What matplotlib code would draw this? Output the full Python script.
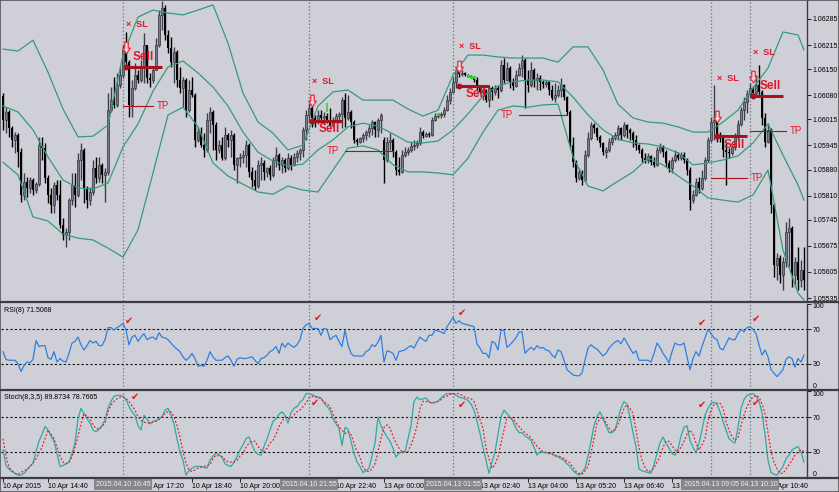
import matplotlib
matplotlib.use("Agg")
import matplotlib.pyplot as plt
from matplotlib.lines import Line2D
from matplotlib.patches import Rectangle
from matplotlib.path import Path
from matplotlib.transforms import ScaledTranslation
import numpy as np

# EURUSD M5, 10 Apr 2015 13:25 -> 13 Apr 2015 11:35 (one entry per bar)
opens = [
    1.06078, 1.06013, 1.06035, 1.05992, 1.05960, 1.05973, 1.05927, 1.05812, 1.05847, 1.05831,
    1.05852, 1.05825, 1.05841, 1.05946, 1.05938, 1.05857, 1.05812, 1.05785, 1.05839, 1.05812,
    1.05731, 1.05704, 1.05712, 1.05798, 1.05839, 1.05812, 1.05906, 1.05933, 1.05831, 1.05798,
    1.05820, 1.05884, 1.05857, 1.05892, 1.05866, 1.05874, 1.06040, 1.06067, 1.06054, 1.06108,
    1.06134, 1.06202, 1.06169, 1.06054, 1.06099, 1.06134, 1.06121, 1.06153, 1.06215, 1.06126,
    1.06121, 1.06148, 1.06215, 1.06296, 1.06315, 1.06242, 1.06207, 1.06169, 1.06196, 1.06121,
    1.06099, 1.06121, 1.06040, 1.06094, 1.06081, 1.05960, 1.05981, 1.05946, 1.05933, 1.06013,
    1.06035, 1.06000, 1.05933, 1.05946, 1.05911, 1.05973, 1.05960, 1.05973, 1.05892, 1.05911,
    1.05914, 1.05919, 1.05946, 1.05874, 1.05852, 1.05836, 1.05892, 1.05898, 1.05874, 1.05884,
    1.05866, 1.05906, 1.05919, 1.05892, 1.05906, 1.05884, 1.05911, 1.05892, 1.05914, 1.05925,
    1.05933, 1.05987, 1.06027, 1.06046, 1.06019, 1.06008, 1.06027, 1.06019, 1.06024, 1.06013,
    1.06000, 1.06013, 1.06024, 1.06030, 1.06067, 1.06019, 1.06035, 1.06008, 1.05960, 1.05954,
    1.05965, 1.05973, 1.05981, 1.05992, 1.06008, 1.05987, 1.06013, 1.05960, 1.05906, 1.05954,
    1.05960, 1.05927, 1.05879, 1.05874, 1.05919, 1.05927, 1.05933, 1.05944, 1.05946, 1.05952,
    1.05981, 1.05970, 1.05976, 1.05973, 1.06013, 1.06024, 1.06027, 1.06030, 1.06040, 1.06067,
    1.06089, 1.06116, 1.06148, 1.06137, 1.06140, 1.06134, 1.06132, 1.06129, 1.06121, 1.06099,
    1.06089, 1.06094, 1.06067, 1.06099, 1.06089, 1.06099, 1.06094, 1.06161, 1.06121, 1.06153,
    1.06116, 1.06105, 1.06134, 1.06153, 1.06175, 1.06121, 1.06108, 1.06148, 1.06121, 1.06126,
    1.06116, 1.06110, 1.06116, 1.06094, 1.06073, 1.06081, 1.06094, 1.06108, 1.06075, 1.06035,
    1.05946, 1.05901, 1.05857, 1.05874, 1.05852, 1.05919, 1.05965, 1.06000, 1.05992, 1.05968,
    1.05952, 1.05927, 1.05933, 1.05954, 1.05965, 1.05973, 1.05992, 1.05973, 1.06000, 1.05987,
    1.05979, 1.05960, 1.05946, 1.05933, 1.05911, 1.05906, 1.05917, 1.05901, 1.05892, 1.05933,
    1.05941, 1.05927, 1.05898, 1.05884, 1.05906, 1.05919, 1.05911, 1.05919, 1.05906, 1.05879,
    1.05798, 1.05812, 1.05847, 1.05831, 1.05857, 1.05906, 1.05960, 1.06008, 1.06013, 1.05973,
    1.05965, 1.05933, 1.05927, 1.05925, 1.05941, 1.05968, 1.06003, 1.06040, 1.06062, 1.06083,
    1.06099, 1.06086, 1.06108, 1.06089, 1.06019, 1.05954, 1.05987, 1.05785, 1.05624, 1.05642,
    1.05597, 1.05632, 1.05712, 1.05723, 1.05597, 1.05632, 1.05583, 1.05610,
]
highs = [
    1.06086, 1.06048, 1.06040, 1.05997, 1.05981, 1.05979, 1.05938, 1.05871, 1.05860, 1.05860,
    1.05857, 1.05847, 1.05968, 1.05968, 1.05952, 1.05866, 1.05831, 1.05847, 1.05852, 1.05852,
    1.05750, 1.05723, 1.05804, 1.05871, 1.05871, 1.05925, 1.05952, 1.05938, 1.05836, 1.05833,
    1.05906, 1.05914, 1.05914, 1.05898, 1.05884, 1.06086, 1.06102, 1.06129, 1.06140, 1.06156,
    1.06215, 1.06250, 1.06175, 1.06121, 1.06167, 1.06148, 1.06175, 1.06247, 1.06215, 1.06140,
    1.06156, 1.06234, 1.06309, 1.06333, 1.06323, 1.06255, 1.06237, 1.06210, 1.06202, 1.06156,
    1.06129, 1.06126, 1.06121, 1.06129, 1.06086, 1.05995, 1.05995, 1.05979, 1.06032, 1.06048,
    1.06040, 1.06008, 1.05960, 1.05968, 1.05995, 1.05979, 1.05987, 1.05979, 1.05914, 1.05925,
    1.05933, 1.05960, 1.05952, 1.05887, 1.05879, 1.05906, 1.05914, 1.05906, 1.05887, 1.05892,
    1.05914, 1.05941, 1.05925, 1.05914, 1.05911, 1.05925, 1.05919, 1.05925, 1.05933, 1.05938,
    1.05995, 1.06040, 1.06059, 1.06051, 1.06027, 1.06040, 1.06040, 1.06035, 1.06032, 1.06046,
    1.06021, 1.06032, 1.06035, 1.06075, 1.06086, 1.06081, 1.06040, 1.06013, 1.05965, 1.05968,
    1.05979, 1.05987, 1.06000, 1.06013, 1.06011, 1.06019, 1.06032, 1.05968, 1.05968, 1.05979,
    1.05965, 1.05933, 1.05914, 1.05933, 1.05941, 1.05941, 1.05954, 1.05960, 1.05960, 1.05995,
    1.05987, 1.05981, 1.05981, 1.06021, 1.06032, 1.06032, 1.06035, 1.06048, 1.06081, 1.06099,
    1.06129, 1.06156, 1.06156, 1.06148, 1.06142, 1.06137, 1.06134, 1.06129, 1.06129, 1.06108,
    1.06099, 1.06097, 1.06108, 1.06105, 1.06108, 1.06105, 1.06175, 1.06180, 1.06169, 1.06159,
    1.06126, 1.06148, 1.06167, 1.06188, 1.06180, 1.06148, 1.06169, 1.06153, 1.06140, 1.06134,
    1.06121, 1.06121, 1.06118, 1.06108, 1.06113, 1.06108, 1.06126, 1.06110, 1.06078, 1.06040,
    1.05968, 1.05906, 1.05884, 1.05879, 1.05933, 1.05981, 1.06008, 1.06005, 1.05995, 1.05973,
    1.05954, 1.05941, 1.05965, 1.05973, 1.05981, 1.06000, 1.05995, 1.06008, 1.06003, 1.05992,
    1.05984, 1.05973, 1.05949, 1.05938, 1.05925, 1.05925, 1.05919, 1.05914, 1.05941, 1.05952,
    1.05946, 1.05933, 1.05906, 1.05914, 1.05933, 1.05927, 1.05927, 1.05927, 1.05911, 1.05887,
    1.05825, 1.05857, 1.05860, 1.05879, 1.05914, 1.05968, 1.06021, 1.06108, 1.06019, 1.05981,
    1.05968, 1.05952, 1.05938, 1.05946, 1.05979, 1.06013, 1.06048, 1.06075, 1.06094, 1.06113,
    1.06105, 1.06134, 1.06161, 1.06094, 1.06032, 1.06005, 1.05992, 1.05790, 1.05656, 1.05651,
    1.05645, 1.05739, 1.05750, 1.05728, 1.05645, 1.05672, 1.05637, 1.05672,
]
lows = [
    1.05987, 1.05979, 1.05968, 1.05941, 1.05925, 1.05887, 1.05793, 1.05798, 1.05806, 1.05817,
    1.05812, 1.05817, 1.05836, 1.05906, 1.05844, 1.05790, 1.05763, 1.05763, 1.05798, 1.05723,
    1.05691, 1.05672, 1.05691, 1.05785, 1.05780, 1.05806, 1.05852, 1.05790, 1.05777, 1.05785,
    1.05812, 1.05844, 1.05847, 1.05844, 1.05793, 1.05866, 1.06035, 1.06046, 1.06048, 1.06099,
    1.06126, 1.06159, 1.06021, 1.06021, 1.06094, 1.06113, 1.06116, 1.06113, 1.06113, 1.06102,
    1.06113, 1.06148, 1.06210, 1.06255, 1.06229, 1.06194, 1.06156, 1.06113, 1.06102, 1.06086,
    1.06048, 1.06021, 1.06035, 1.06075, 1.05941, 1.05954, 1.05941, 1.05914, 1.05927, 1.05979,
    1.05933, 1.05906, 1.05925, 1.05906, 1.05906, 1.05941, 1.05914, 1.05879, 1.05844, 1.05887,
    1.05898, 1.05887, 1.05860, 1.05833, 1.05825, 1.05831, 1.05852, 1.05852, 1.05860, 1.05852,
    1.05860, 1.05887, 1.05879, 1.05871, 1.05874, 1.05879, 1.05879, 1.05890, 1.05901, 1.05906,
    1.05914, 1.05960, 1.06005, 1.05995, 1.05995, 1.06003, 1.06005, 1.06003, 1.06005, 1.05995,
    1.05995, 1.06008, 1.06005, 1.05992, 1.05995, 1.06013, 1.05992, 1.05952, 1.05946, 1.05952,
    1.05954, 1.05960, 1.05968, 1.05973, 1.05968, 1.05968, 1.05979, 1.05844, 1.05901, 1.05933,
    1.05914, 1.05866, 1.05866, 1.05871, 1.05914, 1.05919, 1.05927, 1.05933, 1.05938, 1.05946,
    1.05965, 1.05968, 1.05968, 1.05970, 1.06011, 1.06019, 1.06019, 1.06021, 1.06038, 1.06056,
    1.06086, 1.06099, 1.06129, 1.06132, 1.06132, 1.06129, 1.06126, 1.06116, 1.06094, 1.06086,
    1.06067, 1.06062, 1.06048, 1.06067, 1.06081, 1.06073, 1.06089, 1.06113, 1.06118, 1.06099,
    1.06094, 1.06102, 1.06132, 1.06129, 1.06046, 1.06089, 1.06102, 1.06102, 1.06094, 1.06094,
    1.06099, 1.06102, 1.06081, 1.06067, 1.06062, 1.06075, 1.06075, 1.06067, 1.06027, 1.05938,
    1.05887, 1.05847, 1.05852, 1.05839, 1.05847, 1.05914, 1.05960, 1.05979, 1.05960, 1.05941,
    1.05919, 1.05911, 1.05927, 1.05946, 1.05960, 1.05960, 1.05960, 1.05968, 1.05965, 1.05960,
    1.05941, 1.05933, 1.05925, 1.05901, 1.05898, 1.05898, 1.05892, 1.05887, 1.05890, 1.05925,
    1.05914, 1.05887, 1.05874, 1.05871, 1.05901, 1.05906, 1.05906, 1.05898, 1.05866, 1.05772,
    1.05790, 1.05809, 1.05817, 1.05825, 1.05852, 1.05901, 1.05954, 1.05960, 1.05954, 1.05954,
    1.05914, 1.05839, 1.05911, 1.05919, 1.05933, 1.05960, 1.05997, 1.06013, 1.06032, 1.06075,
    1.06075, 1.06075, 1.06081, 1.06000, 1.05941, 1.05952, 1.05763, 1.05591, 1.05583, 1.05575,
    1.05556, 1.05618, 1.05618, 1.05565, 1.05565, 1.05556, 1.05565, 1.05556,
]
closes = [
    1.06013, 1.06035, 1.05992, 1.05960, 1.05973, 1.05927, 1.05812, 1.05847, 1.05831, 1.05852,
    1.05825, 1.05841, 1.05946, 1.05938, 1.05857, 1.05812, 1.05785, 1.05839, 1.05812, 1.05731,
    1.05704, 1.05712, 1.05798, 1.05839, 1.05812, 1.05906, 1.05933, 1.05831, 1.05798, 1.05820,
    1.05884, 1.05857, 1.05892, 1.05866, 1.05874, 1.06040, 1.06067, 1.06054, 1.06108, 1.06134,
    1.06202, 1.06169, 1.06054, 1.06099, 1.06134, 1.06121, 1.06153, 1.06215, 1.06126, 1.06121,
    1.06148, 1.06215, 1.06296, 1.06315, 1.06242, 1.06207, 1.06169, 1.06196, 1.06121, 1.06099,
    1.06121, 1.06040, 1.06094, 1.06081, 1.05960, 1.05981, 1.05946, 1.05933, 1.06013, 1.06035,
    1.06000, 1.05933, 1.05946, 1.05911, 1.05973, 1.05960, 1.05973, 1.05892, 1.05911, 1.05914,
    1.05919, 1.05946, 1.05874, 1.05852, 1.05836, 1.05892, 1.05898, 1.05874, 1.05884, 1.05866,
    1.05906, 1.05919, 1.05892, 1.05906, 1.05884, 1.05911, 1.05892, 1.05914, 1.05925, 1.05933,
    1.05987, 1.06027, 1.06046, 1.06019, 1.06008, 1.06027, 1.06019, 1.06024, 1.06013, 1.06000,
    1.06013, 1.06024, 1.06030, 1.06067, 1.06019, 1.06035, 1.06008, 1.05960, 1.05954, 1.05965,
    1.05973, 1.05981, 1.05992, 1.06008, 1.05987, 1.06013, 1.06027, 1.05906, 1.05954, 1.05960,
    1.05927, 1.05879, 1.05874, 1.05919, 1.05927, 1.05933, 1.05944, 1.05946, 1.05952, 1.05981,
    1.05970, 1.05976, 1.05973, 1.06013, 1.06024, 1.06027, 1.06030, 1.06040, 1.06067, 1.06089,
    1.06116, 1.06148, 1.06137, 1.06140, 1.06134, 1.06132, 1.06129, 1.06121, 1.06099, 1.06089,
    1.06094, 1.06067, 1.06099, 1.06089, 1.06099, 1.06094, 1.06161, 1.06121, 1.06153, 1.06116,
    1.06105, 1.06134, 1.06153, 1.06175, 1.06121, 1.06108, 1.06148, 1.06121, 1.06126, 1.06116,
    1.06110, 1.06116, 1.06094, 1.06073, 1.06081, 1.06094, 1.06108, 1.06075, 1.06035, 1.05946,
    1.05901, 1.05857, 1.05874, 1.05852, 1.05919, 1.05965, 1.06000, 1.05992, 1.05968, 1.05952,
    1.05927, 1.05933, 1.05954, 1.05965, 1.05973, 1.05992, 1.05973, 1.06000, 1.05987, 1.05979,
    1.05960, 1.05946, 1.05933, 1.05911, 1.05906, 1.05917, 1.05901, 1.05892, 1.05933, 1.05941,
    1.05927, 1.05898, 1.05884, 1.05906, 1.05919, 1.05911, 1.05919, 1.05906, 1.05879, 1.05798,
    1.05812, 1.05847, 1.05831, 1.05857, 1.05906, 1.05960, 1.06008, 1.06013, 1.05973, 1.05965,
    1.05933, 1.05927, 1.05925, 1.05941, 1.05968, 1.06003, 1.06040, 1.06062, 1.06083, 1.06099,
    1.06086, 1.06108, 1.06089, 1.06019, 1.05954, 1.05987, 1.05785, 1.05624, 1.05642, 1.05597,
    1.05632, 1.05712, 1.05723, 1.05597, 1.05632, 1.05583, 1.05610, 1.05583,
]

# Bollinger bands every 5 bars
band_bars = [0, 5, 10, 15, 20, 25, 30, 35, 40, 45, 50, 55, 60, 65, 70, 75, 80, 85, 90, 95,
             100, 105, 110, 115, 120, 125, 130, 135, 140, 145, 150, 155, 160, 165, 170, 175,
             180, 185, 190, 195, 200, 205, 210, 215, 220, 225, 230, 235, 240, 245, 250, 255,
             260, 265, 267]
band_upper = [
    1.06204, 1.06199, 1.06228, 1.06142, 1.06043, 1.05968, 1.05970, 1.06000, 1.06188, 1.06290,
    1.06309, 1.06301, 1.06296, 1.06309, 1.06323, 1.06220, 1.06086, 1.06008, 1.05978, 1.05933,
    1.05946, 1.06051, 1.06089, 1.06094, 1.06067, 1.06067, 1.06067, 1.06043, 1.06024, 1.06040,
    1.06134, 1.06188, 1.06188, 1.06183, 1.06180, 1.06180, 1.06180, 1.06169, 1.06210, 1.06210,
    1.06148, 1.06056, 1.06019, 1.06008, 1.06005, 1.05995, 1.05981, 1.05981, 1.06008, 1.06040,
    1.06100, 1.06153, 1.06250, 1.06242, 1.06202,
]
band_middle = [
    1.06051, 1.06035, 1.05987, 1.05914, 1.05852, 1.05831, 1.05828, 1.05844, 1.05941, 1.06003,
    1.06091, 1.06156, 1.06172, 1.06140, 1.06102, 1.06051, 1.05981, 1.05927, 1.05903, 1.05890,
    1.05895, 1.05933, 1.05960, 1.05995, 1.06005, 1.05997, 1.05976, 1.05954, 1.05952, 1.05957,
    1.05987, 1.06030, 1.06078, 1.06105, 1.06116, 1.06121, 1.06121, 1.06116, 1.06075, 1.06027,
    1.05987, 1.05962, 1.05952, 1.05949, 1.05941, 1.05925, 1.05893, 1.05898, 1.05906, 1.05917,
    1.05952, 1.06003, 1.05919, 1.05839, 1.05798,
]
band_lower = [
    1.05900, 1.05866, 1.05753, 1.05742, 1.05707, 1.05696, 1.05691, 1.05669, 1.05645, 1.05718,
    1.05871, 1.06027, 1.06048, 1.05995, 1.05898, 1.05863, 1.05841, 1.05820, 1.05814, 1.05836,
    1.05825, 1.05820, 1.05879, 1.05938, 1.05944, 1.05933, 1.05893, 1.05874, 1.05874, 1.05871,
    1.05866, 1.05911, 1.05981, 1.06040, 1.06051, 1.06048, 1.06054, 1.06056, 1.05914, 1.05836,
    1.05823, 1.05849, 1.05874, 1.05911, 1.05893, 1.05863, 1.05836, 1.05804, 1.05798, 1.05793,
    1.05812, 1.05879, 1.05664, 1.05548, 1.05530,
]

rsi_values = [
    44, 35, 34, 34, 34, 30, 21, 28, 32, 31, 35, 57, 50, 51, 51, 37, 35, 44, 32, 36,
    33, 32, 42, 54, 56, 61, 52, 46, 51, 57, 54, 56, 51, 51, 58, 72, 72, 69, 72, 74,
    77, 69, 52, 61, 63, 56, 61, 65, 58, 60, 61, 58, 66, 61, 60, 58, 54, 50, 47, 44,
    38, 34, 37, 42, 36, 27, 28, 27, 34, 44, 38, 34, 34, 34, 37, 39, 34, 27, 35, 37,
    36, 36, 37, 38, 34, 30, 36, 37, 40, 44, 46, 50, 42, 54, 49, 54, 51, 49, 52, 58,
    71, 75, 77, 71, 71, 71, 63, 71, 70, 58, 61, 63, 56, 50, 69, 52, 42, 39, 39, 39,
    39, 44, 46, 52, 50, 55, 63, 32, 45, 44, 42, 34, 44, 45, 46, 49, 51, 48, 55, 61,
    58, 56, 63, 63, 69, 68, 67, 65, 73, 78, 84, 77, 80, 77, 76, 75, 74, 73, 53, 48,
    42, 42, 37, 56, 54, 46, 69, 69, 49, 52, 56, 60, 67, 67, 42, 46, 49, 46, 51, 48,
    49, 46, 45, 40, 37, 46, 44, 34, 23, 20, 17, 16, 16, 19, 34, 48, 52, 49, 47, 43,
    39, 42, 48, 52, 55, 57, 53, 60, 54, 48, 42, 45, 34, 34, 34, 34, 32, 42, 54, 49,
    42, 37, 31, 44, 54, 52, 52, 54, 38, 23, 36, 44, 39, 50, 60, 70, 65, 60, 58, 48,
    46, 53, 60, 58, 58, 65, 70, 67, 72, 73, 70, 65, 52, 40, 46, 38, 23, 19, 15, 19,
    23, 35, 38, 36, 26, 36, 32, 40,
]
stoch_main = [
    32, 14, 10, 7, 5, 3, 3, 5, 9, 13, 17, 30, 42, 50, 59, 55, 48, 42, 28, 13,
    14, 16, 18, 28, 40, 68, 80, 74, 68, 63, 55, 53, 56, 60, 67, 80, 88, 94, 95, 95,
    94, 90, 82, 76, 72, 60, 55, 72, 68, 62, 65, 66, 68, 70, 78, 80, 72, 62, 45, 30,
    20, 3, 8, 11, 13, 13, 13, 12, 11, 20, 25, 28, 27, 24, 16, 14, 13, 18, 24, 32,
    38, 45, 47, 38, 30, 27, 26, 36, 45, 55, 65, 68, 73, 76, 72, 63, 75, 80, 82, 87,
    90, 97, 97, 96, 94, 93, 92, 86, 82, 78, 68, 62, 57, 37, 58, 56, 42, 28, 18, 13,
    6, 8, 11, 25, 40, 70, 60, 53, 47, 42, 34, 24, 28, 30, 30, 45, 60, 88, 93, 90,
    91, 92, 88, 86, 87, 88, 92, 95, 97, 97, 97, 95, 93, 92, 91, 89, 85, 78, 65, 51,
    35, 20, 5, 18, 30, 50, 70, 78, 74, 70, 65, 57, 52, 52, 48, 46, 43, 35, 26, 30,
    29, 29, 28, 28, 25, 24, 22, 20, 16, 13, 8, 5, 3, 6, 11, 25, 42, 60, 70, 76,
    68, 60, 52, 52, 55, 68, 80, 88, 85, 70, 52, 36, 10, 8, 7, 6, 5, 15, 28, 40,
    47, 40, 34, 28, 26, 33, 48, 58, 60, 43, 35, 29, 40, 55, 72, 80, 86, 87, 85, 76,
    65, 55, 45, 42, 40, 58, 80, 90, 95, 96, 97, 94, 88, 75, 50, 20, 6, 4, 3, 8,
    13, 22, 26, 32, 34, 36, 30, 18,
]
stoch_signal = [
    45, 25, 12, 8, 5, 4, 6, 8, 10, 13, 17, 22, 28, 35, 45, 55, 50, 45, 35, 25,
    18, 16, 18, 24, 35, 48, 62, 74, 71, 68, 61, 57, 56, 59, 63, 76, 84, 88, 91, 93,
    93, 91, 88, 83, 78, 70, 66, 64, 63, 63, 64, 65, 67, 70, 75, 76, 76, 70, 60, 47,
    30, 17, 9, 7, 9, 11, 12, 13, 14, 15, 22, 26, 25, 24, 21, 18, 18, 18, 20, 25,
    28, 35, 40, 42, 42, 36, 32, 30, 34, 40, 43, 50, 59, 65, 70, 69, 68, 72, 76, 78,
    82, 86, 92, 94, 93, 93, 91, 88, 85, 82, 74, 65, 59, 55, 51, 53, 50, 40, 30, 24,
    12, 8, 7, 10, 16, 30, 45, 58, 61, 57, 48, 40, 34, 30, 30, 30, 38, 47, 60, 80,
    88, 88, 87, 86, 87, 88, 90, 93, 94, 96, 97, 97, 97, 95, 93, 92, 91, 88, 78, 67,
    57, 35, 22, 11, 15, 24, 40, 55, 70, 69, 68, 63, 59, 55, 52, 49, 46, 41, 36, 33,
    30, 29, 28, 27, 26, 25, 24, 22, 19, 17, 12, 7, 5, 4, 8, 13, 28, 45, 63, 68,
    70, 63, 57, 53, 56, 61, 70, 80, 84, 80, 74, 55, 35, 20, 12, 7, 8, 11, 18, 24,
    35, 42, 42, 37, 32, 30, 35, 42, 50, 55, 50, 40, 32, 38, 45, 65, 78, 84, 86, 86,
    80, 65, 55, 47, 43, 46, 60, 72, 82, 89, 93, 95, 93, 85, 74, 52, 30, 18, 10, 5,
    5, 10, 15, 20, 26, 30, 32, 30,
]

price_ticks = [1.06285, 1.06215, 1.06150, 1.06080, 1.06015, 1.05945,
               1.05880, 1.05810, 1.05745, 1.05675, 1.05605, 1.05535]
time_tick_bars = [0, 15, 47, 63, 79, 111, 127, 159, 175, 191, 207, 223, 255]
time_tick_labels = ["10 Apr 2015", "10 Apr 14:40", "10 Apr 17:20", "10 Apr 18:40",
                    "10 Apr 20:00", "10 Apr 22:40", "13 Apr 00:00", "13 Apr 02:40",
                    "13 Apr 04:00", "13 Apr 05:20", "13 Apr 06:40", "13 Apr 08:00",
                    "13 Apr 10:40"]

# sell signals drawn by the EA
signal_bars = [40, 102, 150, 236, 249]
signal_times = ["2015.04.10 16:45", "2015.04.10 21:55", "2015.04.13 01:55",
                "2015.04.13 09:05", "2015.04.13 10:10"]
sl_prices = [1.06271, 1.06116, 1.06210, 1.06126, 1.06196]
entry_prices = [1.06156, 1.06011, 1.06105, 1.05970, 1.06078]
entry_start = [41, 103, 152, 238, 250]
entry_end = [53, 113, 162, 248, 260]
tp_prices = [1.06051, 1.05930, 1.06027, 1.05857, 1.05984]
tp_start = [40, 114, 172, 236, 249]
tp_end = [50, 130, 188, 248, 261]
tp_text_side = ["right", "left", "left", "right", "right"]
sell_text_side = ["above", "below", "below", "below", "above"]

rsi_check_bars = [42, 105, 153, 233, 251]
rsi_check_vals = [80, 83, 89, 78, 82]
stoch_check_bars = [44, 104, 153, 233, 251]
stoch_check_vals = [93, 86, 84, 84, 86]

green_dot_bars = [145, 155, 156, 157]
green_dot_prices = [1.06030, 1.06132, 1.06130, 1.06128]


BG = "#cfd0d7"
FRAME = "#3c3c44"
RED = "#e3162c"
DARKRED = "#a8121c"
FONT = ["Liberation Sans", "DejaVu Sans"]
TICK_FS = 5.0

# hollow block arrow pointing down (MT4 "sell" arrow object)
SELL_ARROW = Path([(-0.28, 1.0), (0.28, 1.0), (0.28, 0.05), (0.62, 0.05), (0.0, -0.85),
                   (-0.62, 0.05), (-0.28, 0.05), (-0.28, 1.0)],
                  [Path.MOVETO] + [Path.LINETO] * 6 + [Path.CLOSEPOLY])

plt.rcParams.update({
    "font.family": FONT,
    "font.size": TICK_FS,
    "axes.facecolor": BG,
    "figure.facecolor": BG,
    "xtick.color": "black",
    "ytick.color": "black",
})

W, H = 839, 492
fig = plt.figure(figsize=(W / 100, H / 100), dpi=100)


def panel(top, bottom):
    return fig.add_axes([1 / W, 1 - bottom / H, 806 / W, (bottom - top) / H])


ax = panel(0, 301)
ax_rsi = panel(303.5, 389.5)
ax_st = panel(391, 477.7)

n = len(closes)
x = np.arange(n)
o, hi, lo, c = (np.array(v) for v in (opens, highs, lows, closes))
bull = c >= o

for a in (ax, ax_rsi, ax_st):
    a.set_xlim(-2 / 3, 268)
    for s in ("top", "bottom", "left"):
        a.spines[s].set_visible(False)
    a.spines["right"].set_color(FRAME)
    a.spines["right"].set_linewidth(1)
    a.yaxis.tick_right()
    a.tick_params(axis="y", length=3, width=0.6, pad=1.2, labelsize=TICK_FS, colors="black")
    for b in signal_bars:
        a.axvline(b, color="#7d7d84", lw=0.9, ls=(0, (1.2, 1.6)), zorder=1)

# ---- main window: candles + bands ----
body_lo = np.minimum(o, c)
body_h = np.maximum(np.abs(c - o), 0.00003)
ax.vlines(x[bull], lo[bull], hi[bull], color="#3c3c4c", lw=1.0, zorder=2)
ax.vlines(x[~bull], lo[~bull], hi[~bull], color="#000000", lw=1.0, zorder=2)
ax.bar(x[bull], body_h[bull], 0.8, bottom=body_lo[bull], color="#7a7a8e",
       edgecolor="#34343f", linewidth=0.5, zorder=2.1)
ax.bar(x[~bull], body_h[~bull], 0.8, bottom=body_lo[~bull], color="#000000",
       edgecolor="none", zorder=2.1)

for band in (band_upper, band_middle, band_lower):
    ax.plot(band_bars, band, color="#369a7a", lw=0.9, zorder=3)

ax.set_ylim(1.05527, 1.06336)
ax.set_yticks(price_ticks)
ax.set_yticklabels([f"{p:.5f}" for p in price_ticks])
ax.set_xticks([])

# signal objects
arrow_shift = ax.transData + ScaledTranslation(0, 14 / 72, fig.dpi_scale_trans)
for k, s in enumerate(signal_bars):
    ax.text(entry_start[k], sl_prices[k], "\u00d7  SL", color=RED, fontsize=6.5,
            fontweight="bold", ha="left", va="center", zorder=5)
    ax.plot([entry_start[k]], [entry_prices[k]], linestyle="none", marker=SELL_ARROW,
            ms=9, mfc="#f5d6d8", mec="#e2303e", mew=0.9, zorder=5, transform=arrow_shift)
    ax.plot([entry_start[k], entry_end[k]], [entry_prices[k]] * 2, color=DARKRED,
            lw=2.2, solid_capstyle="butt", zorder=4)
    ax.plot([entry_start[k]], [entry_prices[k]], "o", color=DARKRED, ms=3.2, zorder=4)
    dy = 7 if sell_text_side[k] == "above" else -6
    ax.annotate("Sell", (entry_start[k] + 2.2, entry_prices[k]), xytext=(0, dy),
                textcoords="offset points", ha="left", va="center", color=RED,
                fontsize=8.5, fontweight="bold", zorder=5)
    ax.plot([tp_start[k], tp_end[k]], [tp_prices[k]] * 2, color=DARKRED, lw=0.8, zorder=4)
    if tp_text_side[k] == "right":
        ax.annotate("TP", (tp_end[k], tp_prices[k]), xytext=(3, 0),
                    textcoords="offset points", ha="left", va="center", color=RED,
                    fontsize=7, zorder=5)
    else:
        ax.annotate("TP", (tp_start[k], tp_prices[k]), xytext=(-4, 0),
                    textcoords="offset points", ha="right", va="center", color=RED,
                    fontsize=7, zorder=5)

ax.vlines(108, 1.06035, 1.06059, color="#2ed02e", lw=1.1, zorder=5)
ax.scatter(green_dot_bars, green_dot_prices, s=2, color="#2ed02e", zorder=5)

# ---- RSI window ----
ax_rsi.plot(x, rsi_values, color="#2f7fe0", lw=0.9, zorder=3)
ax_rsi.set_ylim(0, 100)
ax_rsi.set_xticks([])
ax_rsi.text(0.004, 0.92, "RSI(8) 71.5068", transform=ax_rsi.transAxes,
            ha="left", va="center", fontsize=TICK_FS)
for b, v in zip(rsi_check_bars, rsi_check_vals):
    ax_rsi.text(b, v, "\u2714", color="#e01818", fontsize=7, ha="center",
                va="center", family=["DejaVu Sans"], zorder=5)

# ---- Stochastic window ----
ax_st.plot(x, stoch_main, color="#2fa8a2", lw=0.9, zorder=3)
ax_st.plot(x, stoch_signal, color="#e8202a", lw=0.9, ls=(0, (1.5, 1.5)), zorder=3)
ax_st.set_ylim(0, 100)
ax_st.text(0.004, 0.92, "Stoch(8,3,5) 89.8734 78.7665", transform=ax_st.transAxes,
           ha="left", va="center", fontsize=TICK_FS)
for b, v in zip(stoch_check_bars, stoch_check_vals):
    ax_st.text(b, v, "\u2714", color="#e01818", fontsize=7, ha="center",
               va="center", family=["DejaVu Sans"], zorder=5)

for a in (ax_rsi, ax_st):
    for lvl in (30, 70):
        a.axhline(lvl, color="#111111", lw=0.8, ls=(0, (2, 2)), zorder=2)
    a.set_yticks([0, 30, 70, 100])
    a.set_yticklabels(["0", "30", "70", "100"])
    for t, v in zip(a.yaxis.get_major_ticks(), [0, 30, 70, 100]):
        if v == 100:
            t.label2.set_va("top")
        elif v == 0:
            t.label2.set_va("bottom")

ax_st.set_xticks(time_tick_bars)
ax_st.set_xticklabels(time_tick_labels)
ax_st.tick_params(axis="x", length=3, width=0.6, pad=1, labelsize=TICK_FS, colors="black")
for lbl in ax_st.get_xticklabels():
    lbl.set_ha("left")

# highlighted times of the vertical lines (drawn over the time scale like MT4)
for k, (b, t) in enumerate(zip(signal_bars, signal_times)):
    ax_st.text(b, -0.075, t, transform=ax_st.get_xaxis_transform(), ha="center",
               va="center", fontsize=TICK_FS, color="#f2f2f2", clip_on=False,
               zorder=20 - k,
               bbox=dict(boxstyle="square,pad=0.3", fc="#86868c", ec="none"))

# panel separators and outer frame
for yy in (302, 390, 478):
    fig.add_artist(Line2D([0, 1], [1 - yy / H] * 2, color=FRAME, lw=1.6))
fig.add_artist(Rectangle((0, 0), 1, 1, transform=fig.transFigure, fill=False,
                         ec="#55555c", lw=1.2))

fig.savefig("out.png", dpi=100, facecolor=BG)
